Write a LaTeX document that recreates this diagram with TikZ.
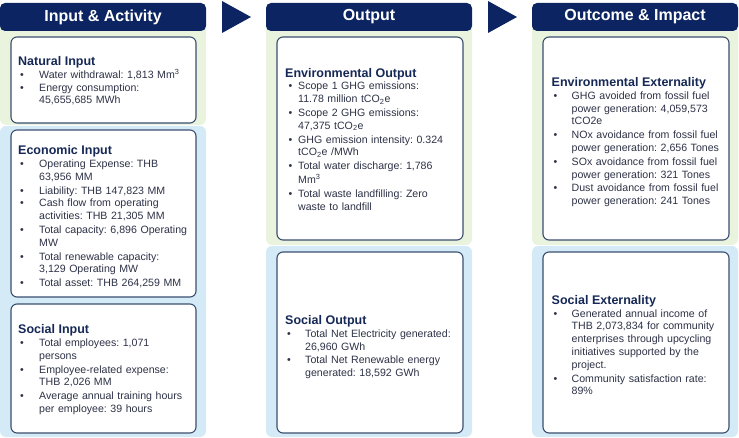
\documentclass[tikz,border=0pt]{standalone}
\usepackage{fontspec}
\setmainfont{Liberation Sans}
\definecolor{navy}{RGB}{12,36,97}
\definecolor{pgreen}{RGB}{234,243,222}
\definecolor{pblue}{RGB}{212,234,247}
\definecolor{bordc}{RGB}{58,78,110}
\definecolor{titlec}{RGB}{22,40,85}
\definecolor{bodyc}{RGB}{45,50,70}
\newcommand{\nl}{\newline}
\newcommand{\bitem}[2][21pt]{\par\noindent\hbox to #1{\hskip2pt\strut\textbullet\hfil}\parbox[t]{168pt}{\raggedright\strut #2\strut}}
\newcommand{\bitemx}[1]{\par\noindent\hbox to 13pt{\hskip3.5pt\strut\textbullet\hfil}\parbox[t]{170pt}{\raggedright\strut #1\strut}}
\newcommand{\btitle}[1]{{\color{titlec}\fontsize{12.5}{13}\selectfont\bfseries #1\par}}
\begin{document}
\begin{tikzpicture}[x=1pt,y=-1pt,
  hdr/.style={fill=navy, rounded corners=5pt, text=white, font=\fontsize{16}{18}\selectfont\bfseries, minimum width=206pt, minimum height=28pt, inner sep=0pt},
  gpanel/.style={fill=pgreen, rounded corners=6pt},
  bpanel/.style={fill=pblue, rounded corners=6pt},
  wbox/.style={draw=bordc, line width=1.1pt, fill=white, rounded corners=6pt},
  txt/.style={anchor=west, text width=186pt, inner sep=0pt, align=left, text=bodyc, font=\fontsize{10.6}{12.8}\selectfont\frenchspacing},
  arr/.style={fill=navy}]
\useasboundingbox (0,0) rectangle (739,438);
% panels
\fill[gpanel] (0,20) rectangle (206,125);
\fill[bpanel] (0,126) rectangle (206,437);
\fill[gpanel] (266,20) rectangle (472,245);
\fill[bpanel] (266,246) rectangle (472,437);
\fill[gpanel] (532,20) rectangle (738,245);
\fill[bpanel] (532,246) rectangle (738,437);
% headers
\node[hdr] (h1) at (103,17) {Input \& Activity};
\node[hdr] (h2) at (369,17) {Output};
\node[hdr] (h3) at (635,17) {Outcome \& Impact};
% triangles
\fill[arr] (222,1) -- (251,17) -- (222,33) -- cycle;
\fill[arr] (488,1) -- (517,17) -- (488,33) -- cycle;
% white boxes
\draw[wbox] (11,37) rectangle (196,123);
\draw[wbox] (11,130) rectangle (196,297);
\draw[wbox] (11,304) rectangle (196,433);
\draw[wbox] (277,37) rectangle (463,240);
\draw[wbox] (277,252) rectangle (463,433);
\draw[wbox] (543,37) rectangle (729,240);
\draw[wbox] (543,252) rectangle (729,433);
% texts
\node[txt] (nat) at (18,82) {\btitle{Natural Input}%
\bitem{Water withdrawal: 1,813 Mm\textsuperscript{3}}%
\bitem{Energy consumption:\nl 45,655,685 MWh}};
\node[txt] (eco) at (18,218) {\btitle{Economic Input}%
\bitem{Operating Expense: THB\nl 63,956 MM}%
\bitem{Liability: THB 147,823 MM}%
\bitem{Cash flow from operating\nl activities: THB 21,305 MM}%
\bitem{Total capacity: 6,896 Operating\nl MW}%
\bitem{Total renewable capacity:\nl 3,129 Operating MW}%
\bitem{Total asset: THB 264,259 MM}};
\node[txt] (soc) at (18,370.5) {\btitle{Social Input}%
\bitem{Total employees: 1,071\nl persons}%
\bitem{Employee-related expense:\nl THB 2,026 MM}%
\bitem{Average annual training hours\nl per employee: 39 hours}};
\node[txt] (envout) at (285,141) {\btitle{Environmental Output}%
\bitemx{Scope 1 GHG emissions:\nl 11.78 million tCO\textsubscript{2}e}%
\bitemx{Scope 2 GHG emissions:\nl 47,375 tCO\textsubscript{2}e}%
\bitemx{GHG emission intensity: 0.324\nl tCO\textsubscript{2}e /MWh}%
\bitemx{Total water discharge: 1,786\nl Mm\textsuperscript{3}}%
\bitemx{Total waste landfilling: Zero\nl waste to landfill}};
\node[txt] (socout) at (285,348) {\btitle{Social Output}%
\bitem[20pt]{Total Net Electricity generated:\nl 26,960 GWh}%
\bitem[20pt]{Total Net Renewable energy\nl generated: 18,592 GWh}};
\node[txt] (envext) at (551.5,143) {\btitle{Environmental Externality}%
\bitem[20pt]{GHG avoided from fossil fuel\nl power generation: 4,059,573\nl tCO2e}%
\bitem[20pt]{NOx avoidance from fossil fuel\nl power generation: 2,656 Tones}%
\bitem[20pt]{SOx avoidance from fossil fuel\nl power generation: 321 Tones}%
\bitem[20pt]{Dust avoidance from fossil fuel\nl power generation: 241 Tones}};
\node[txt] (socext) at (551.5,347) {\btitle{Social Externality}%
\bitem[20pt]{Generated annual income of\nl THB 2,073,834 for community\nl enterprises through upcycling\nl initiatives supported by the\nl project.}%
\bitem[20pt]{Community satisfaction rate:\nl 89\%}};
\end{tikzpicture}
\end{document}
